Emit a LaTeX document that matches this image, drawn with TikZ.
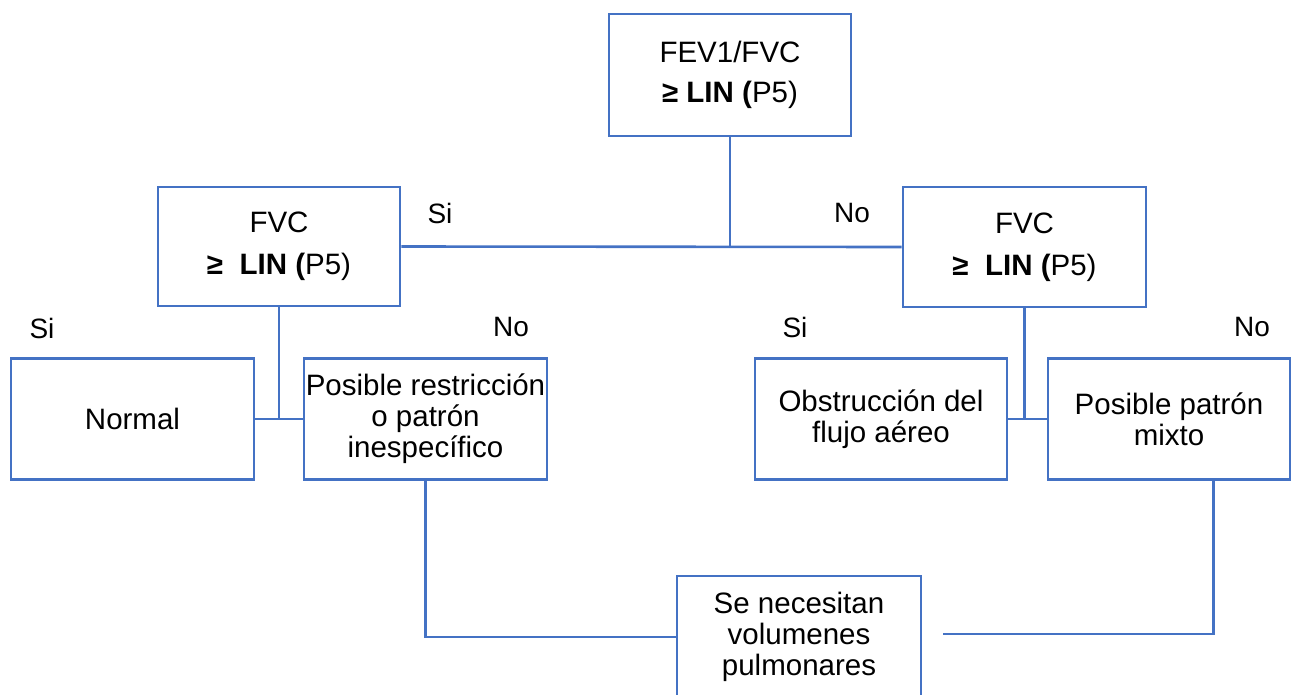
\documentclass[tikz,border=0pt]{standalone}
\usepackage{fontspec}
\setmainfont{Liberation Sans}
\definecolor{boxblue}{HTML}{4472C4}
\begin{document}
\begin{tikzpicture}[x=1pt,y=-1pt,
  box/.style={draw=boxblue,line width=2.6pt,rectangle,inner sep=0pt,align=center,
    font=\fontsize{29.5}{31}\selectfont},
  conn/.style={draw=boxblue,line width=2.6pt},
  lbl/.style={font=\fontsize{28}{30}\selectfont,inner sep=0pt}]
\useasboundingbox (0,0) rectangle (1291,694);
\clip (0,0) rectangle (1291,694);
\node[box,minimum width=242pt,minimum height=122pt] (top) at (730,75)
  {FEV1/FVC\\[9pt]\textbf{≥ LIN (}P5)};
\node[box,minimum width=242pt,minimum height=119pt] (fvcL) at (279,246.5)
  {FVC\\[11pt]\textbf{≥\ \ LIN (}P5)};
\node[box,minimum width=243pt,minimum height=120pt] (fvcR) at (1024.5,247)
  {FVC\\[11pt]\textbf{≥\ \ LIN (}P5)};
\node[box,minimum width=243pt,minimum height=121pt] (normal) at (132.5,419) {Normal};
\node[box,minimum width=243pt,minimum height=121pt] (posible) at (425.5,419)
  {Posible restricción\\o patrón\\inespecífico};
\node[box,minimum width=252pt,minimum height=121pt] (obst) at (881,419)
  {Obstrucción del\\flujo aéreo};
\node[box,minimum width=242pt,minimum height=121pt] (mixto) at (1169,419)
  {Posible patrón\\mixto};
\node[box,minimum width=244pt,minimum height=122pt] (vol) at (799,637)
  {Se necesitan\\volumenes\\pulmonares};
% labels
\node[lbl] (si1) at (440,213) {Si};
\node[lbl] (no1) at (852,213) {No};
\node[lbl] (si2) at (42,328) {Si};
\node[lbl] (no2) at (511,327) {No};
\node[lbl] (si3) at (795,327) {Si};
\node[lbl] (no3) at (1252,327) {No};
% connectors
\draw[conn] (fvcL.east) -- (fvcR.west);
\draw[conn] (top.south) -- (top.south |- fvcL.east);
\draw[conn] (normal.east) -- (posible.west);
\draw[conn] (fvcL.south) -- (fvcL.south |- normal.east);
\draw[conn] (obst.east) -- (mixto.west);
\draw[conn] (fvcR.south) -- (fvcR.south |- obst.east);
\draw[conn] (posible.south) |- (vol.west);
\coordinate (mb) at ([xshift=-78pt]mixto.south east);
\coordinate (rfree) at (943,634);
\draw[conn] (mb) |- (rfree);
\end{tikzpicture}
\end{document}
